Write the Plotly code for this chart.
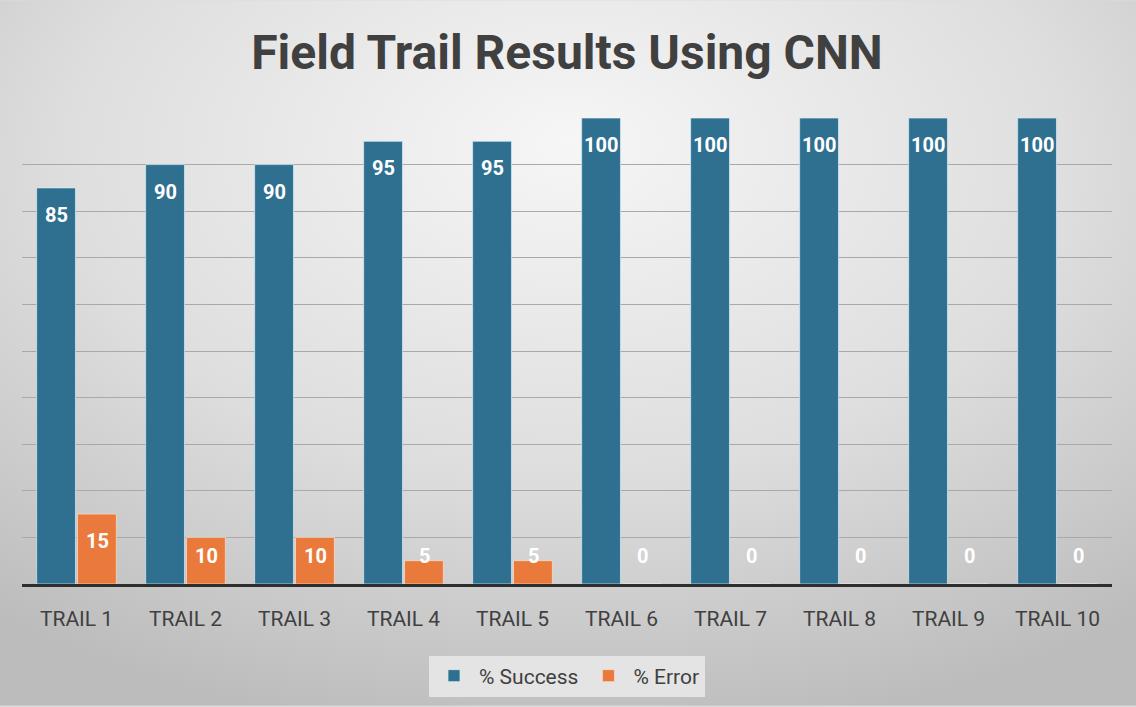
import urllib.parse
import plotly.graph_objects as go

##Goals
#Grouped bar chart of field trail results (CNN)

#Globals
trails = ["TRAIL 1", "TRAIL 2", "TRAIL 3", "TRAIL 4", "TRAIL 5",
          "TRAIL 6", "TRAIL 7", "TRAIL 8", "TRAIL 9", "TRAIL 10"]
success = [85, 90, 90, 95, 95, 100, 100, 100, 100, 100]
error = [15, 10, 10, 5, 5, 0, 0, 0, 0, 0]

W, H = 1136, 707
L, R, T, B = 22, 24, 118, 122
BLUE = "#2f7090"
ORANGE = "#ea7a3c"
TEXT = "#404040"

def backgroundImage():
  # soft radial gray gradient like the office chart background
  svg = ('<svg xmlns="http://www.w3.org/2000/svg" width="1136" height="707" preserveAspectRatio="none">'
         '<defs><radialGradient id="g" cx="50%" cy="25%" r="80%" fx="50%" fy="20%">'
         '<stop offset="0%" stop-color="#f6f6f6"/>'
         '<stop offset="55%" stop-color="#dedede"/>'
         '<stop offset="100%" stop-color="#bcbcbc"/>'
         '</radialGradient></defs>'
         '<rect width="1136" height="707" fill="url(#g)"/></svg>')
  return "data:image/svg+xml;charset=utf-8," + urllib.parse.quote(svg)

def labelY(v):
  # office "inside end" label, clamped so it never drops below the baseline
  return max(v - 5.8, 6.0)

def generateChart():
  pw = W - L - R
  ph = H - T - B
  fig = go.Figure()
  fig.add_trace(go.Bar(x=trails, y=success, name="% Success",
                       marker=dict(color=BLUE, line=dict(color="rgba(215,238,250,0.7)", width=1))))
  fig.add_trace(go.Bar(x=trails, y=error, name="% Error",
                       marker=dict(color=ORANGE, line=dict(color="rgba(250,235,220,0.6)", width=1))))

  annotations = []
  for t, s, e in zip(trails, success, error):
    annotations.append(dict(x=t, y=labelY(s), xref="x", yref="y", text=str(s), showarrow=False,
                            xshift=-20.5, font=dict(family="Roboto", size=20, color="white", weight="bold")))
    annotations.append(dict(x=t, y=labelY(e), xref="x", yref="y", text=str(e), showarrow=False,
                            xshift=20.5, font=dict(family="Roboto", size=20, color="white", weight="bold")))

  fig.update_layout(
    width=W, height=H,
    margin=dict(l=L, r=R, t=T, b=B),
    paper_bgcolor="#dcdcdc",
    plot_bgcolor="rgba(0,0,0,0)",
    barmode="group", bargap=0.25, bargroupgap=0.05,
    title=dict(text="Field Trail Results Using CNN", x=0.5, xref="paper", xanchor="center",
               y=1 - 52 / H, yanchor="middle",
               font=dict(family="Roboto", size=48, color=TEXT, weight="bold")),
    xaxis=dict(showline=True, linecolor="#2e2e2e", linewidth=3, ticks="", ticklabelstandoff=14,
               tickfont=dict(family="Roboto", size=21, color=TEXT), showgrid=False),
    yaxis=dict(range=[0, 100], dtick=10, showticklabels=False, showgrid=True,
               gridcolor="#a9a9a9", gridwidth=1, zeroline=False),
    legend=dict(orientation="h", x=0.5, xanchor="center", y=-(676 - (H - B)) / ph, yanchor="middle",
                bgcolor="#e4e4e4", font=dict(family="Roboto", size=21, color=TEXT),
                itemwidth=40, itemclick=False),
    annotations=annotations,
    images=[dict(source=backgroundImage(), xref="paper", yref="paper",
                 x=-L / pw, y=1 + T / ph, sizex=W / pw, sizey=H / ph,
                 xanchor="left", yanchor="top", sizing="stretch", layer="below")],
  )
  return fig

def main():
  fig = generateChart()
  # drop the default page margin so the chart fills the window
  fig.write_html("out.html", config={"displayModeBar": False},
                 post_script="document.body.style.margin='0';")


if __name__ == '__main__':
  main()
